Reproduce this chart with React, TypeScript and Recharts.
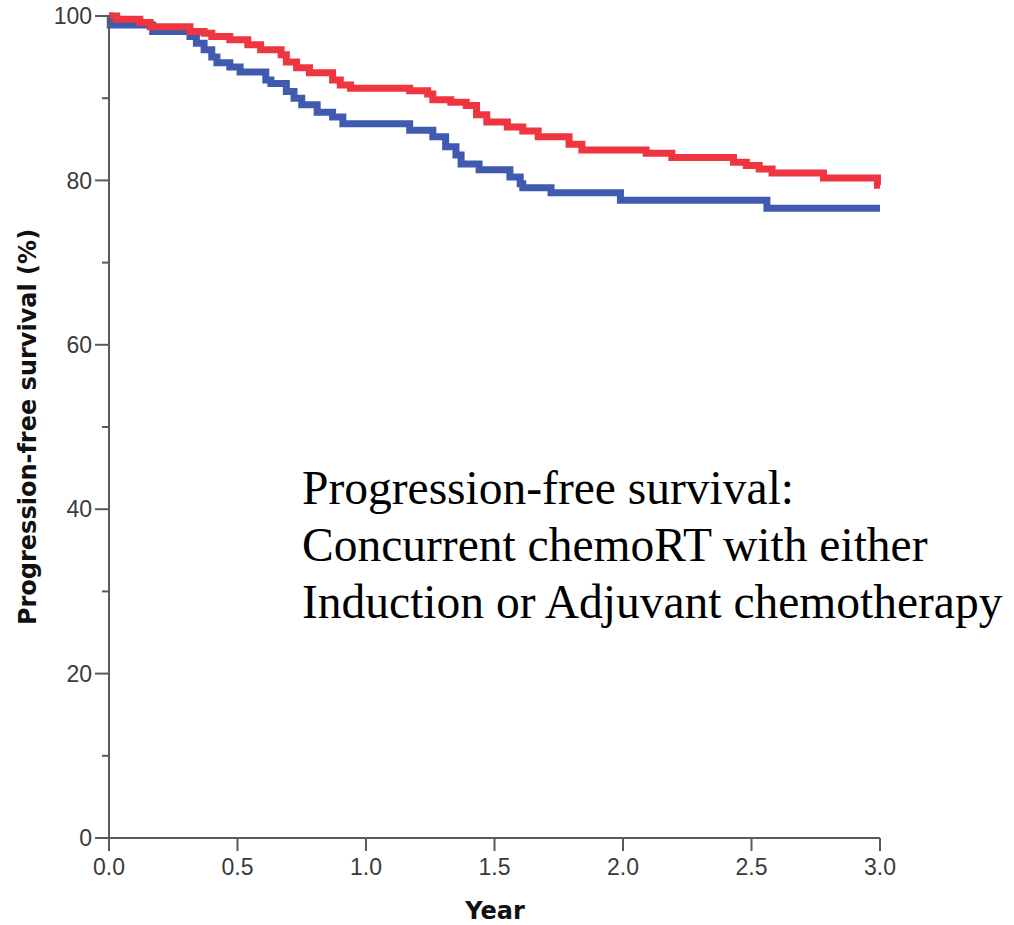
import { Label, Line, LineChart, XAxis, YAxis } from "recharts";

// Kaplan-Meier steps: [year, survival %]
const blueTimes = [0, 0.005, 0.17, 0.315, 0.34, 0.37, 0.4, 0.42, 0.47, 0.51, 0.61, 0.63, 0.69, 0.72, 0.75, 0.81, 0.87, 0.91, 1.17, 1.26, 1.31, 1.35, 1.37, 1.44, 1.56, 1.6, 1.61, 1.72, 1.99, 2.56, 3.0];
const blueValues = [100, 98.9, 98.1, 97.5, 96.7, 95.9, 95.0, 94.3, 93.8, 93.2, 92.2, 91.8, 90.8, 90.0, 89.2, 88.3, 87.7, 86.9, 86.1, 85.3, 84.1, 83.1, 82.0, 81.3, 80.4, 79.6, 79.1, 78.5, 77.6, 76.6, 76.6];

const redTimes = [0, 0.03, 0.12, 0.16, 0.315, 0.37, 0.4, 0.47, 0.54, 0.59, 0.67, 0.69, 0.73, 0.78, 0.87, 0.9, 0.94, 1.17, 1.24, 1.26, 1.33, 1.39, 1.43, 1.47, 1.55, 1.61, 1.67, 1.79, 1.84, 2.09, 2.19, 2.43, 2.48, 2.53, 2.58, 2.78, 2.99, 3.0];
const redValues = [100, 99.6, 99.2, 98.7, 98.1, 97.9, 97.5, 97.1, 96.5, 95.9, 95.3, 94.4, 93.7, 93.1, 92.2, 91.6, 91.2, 90.9, 90.5, 89.8, 89.5, 89.1, 88.0, 87.1, 86.5, 86.0, 85.3, 84.4, 83.7, 83.3, 82.8, 82.2, 81.8, 81.4, 80.9, 80.3, 79.4, 79.4];

const xTicks = [0, 0.5, 1, 1.5, 2, 2.5, 3];
const yTicks = [0, 10, 20, 30, 40, 50, 60, 70, 80, 90, 100];

const annotation = [
  "Progression-free survival:",
  "Concurrent chemoRT with either",
  "Induction or Adjuvant chemotherapy",
];

const blueData = blueTimes.map((t, i) => ({ t, s: blueValues[i] }));
const redData = redTimes.map((t, i) => ({ t, s: redValues[i] }));

const AXIS = "#5a5a5a";
const TICK_TEXT = "#3a3a3a";
const TICK_FONT = "Liberation Sans, Arial, sans-serif";
const Y_TICK = 14;
const Y_MARGIN = 3;

function YTick(props: any) {
  const { x, y, payload } = props;
  const axisX = x + Y_TICK + Y_MARGIN;
  const major = payload.value % 20 === 0;
  return (
    <g>
      <line x1={axisX - (major ? Y_TICK : 7)} x2={axisX} y1={y} y2={y} stroke={AXIS} strokeWidth={2} />
      {major && (
        <text x={x} y={y} dy="0.355em" textAnchor="end" fill={TICK_TEXT} fontSize={23} fontFamily={TICK_FONT}>
          {payload.value}
        </text>
      )}
    </g>
  );
}

export default function App() {
  return (
    <div style={{ position: "absolute", left: 0, top: 0, width: 1014, height: 925, background: "#fff" }}>
      <LineChart width={1014} height={925} margin={{ top: 16, right: 134, bottom: 27, left: 0 }}>
        <XAxis
          type="number"
          dataKey="t"
          domain={[0, 3]}
          ticks={xTicks}
          tickFormatter={(v: number) => v.toFixed(1)}
          height={60}
          tickSize={13}
          tickMargin={8}
          stroke={AXIS}
          strokeWidth={2}
          tick={{ fill: TICK_TEXT, fontSize: 23, fontFamily: TICK_FONT }}
          allowDuplicatedCategory={false}
        >
          <Label
            content={() => (
              <text x={495} y={919} textAnchor="middle" fontSize={24} fontWeight="bold" fill="#111" fontFamily="DejaVu Sans, sans-serif">
                Year
              </text>
            )}
          />
        </XAxis>
        <YAxis
          type="number"
          dataKey="s"
          domain={[0, 100]}
          ticks={yTicks}
          interval={0}
          width={109}
          tickSize={Y_TICK}
          tickMargin={Y_MARGIN}
          tickLine={false}
          stroke={AXIS}
          strokeWidth={2}
          tick={<YTick />}
        >
          <Label
            content={() => (
              <text
                x={36}
                y={427}
                transform="rotate(-90 36 427)"
                textAnchor="middle"
                fontSize={24}
                fontWeight="bold"
                fill="#111"
                fontFamily="DejaVu Sans, sans-serif"
              >
                Progression-free survival (%)
              </text>
            )}
          />
        </YAxis>
        <Line data={blueData} dataKey="s" type="stepAfter" stroke="#3f5aae" strokeWidth={7} dot={false} activeDot={false} isAnimationActive={false} strokeLinejoin="miter" />
        <Line data={redData} dataKey="s" type="stepAfter" stroke="#ee3540" strokeWidth={7} dot={false} activeDot={false} isAnimationActive={false} strokeLinejoin="miter" />
      </LineChart>
      <div
        style={{
          position: "absolute",
          left: 302,
          top: 460,
          fontFamily: "Liberation Serif, Times New Roman, serif",
          fontSize: 47.5,
          lineHeight: "57px",
          color: "#000",
          whiteSpace: "nowrap",
        }}
      >
        {annotation.map((l) => (
          <div key={l}>{l}</div>
        ))}
      </div>
    </div>
  );
}
